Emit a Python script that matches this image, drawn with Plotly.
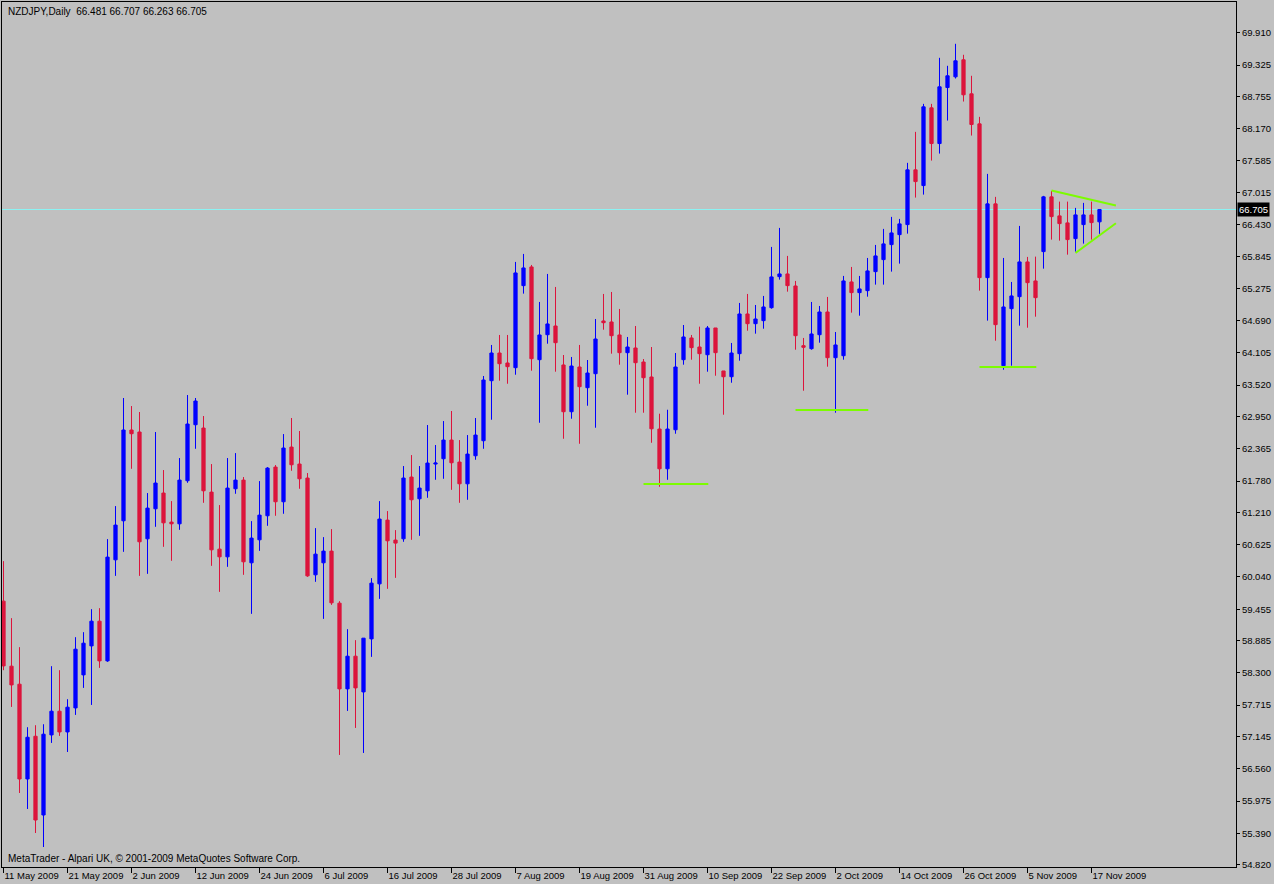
import plotly.graph_objects as go

# ---- data ----
opens = [59.601, 58.422, 58.095, 56.376, 57.151, 55.723, 57.175, 57.605, 57.229, 57.665,
         58.264, 58.790, 59.238, 58.518, 60.351, 61.059, 62.705, 62.669, 60.732, 61.277,
         61.562, 61.035, 61.004, 61.785, 62.801, 62.741, 61.579, 60.545, 60.405, 61.640,
         61.797, 60.297, 60.714, 61.150, 62.033, 61.404, 62.396, 62.088, 61.834, 60.079,
         60.297, 60.509, 59.565, 58.010, 58.603, 57.955, 58.917, 59.915, 61.071, 60.709,
         60.732, 61.852, 61.458, 61.603, 62.088, 62.184, 62.523, 62.124, 61.730, 62.238,
         62.511, 63.600, 64.102, 63.921, 63.836, 65.324, 65.663, 63.981, 64.434, 64.592,
         63.885, 63.037, 63.848, 63.473, 63.727, 64.683, 64.665, 64.429, 64.108, 64.193,
         63.939, 63.667, 62.723, 62.002, 62.710, 63.981, 64.375, 64.211, 64.071, 64.556,
         63.776, 63.672, 64.090, 64.810, 64.634, 64.689, 64.924, 65.487, 65.536, 65.318,
         64.235, 64.180, 64.434, 64.846, 64.017, 64.053, 65.391, 65.197, 65.233, 65.578,
         65.796, 66.068, 66.249, 66.431, 67.424, 67.139, 68.549, 67.901, 68.917, 69.111,
         69.420, 68.803, 68.258, 65.469, 66.807, 63.872, 64.906, 65.124, 65.754, 65.409,
         65.941, 66.934, 66.589, 66.462, 66.177, 66.431, 66.607, 66.481]
highs = [60.327, 59.293, 58.767, 57.315, 57.351, 57.369, 58.422, 58.349, 57.823, 58.948,
         59.039, 59.456, 59.474, 60.727, 61.326, 63.286, 63.140, 63.032, 61.562, 62.669,
         61.979, 61.416, 62.197, 63.340, 63.286, 62.959, 62.088, 61.344, 62.197, 62.287,
         61.852, 61.053, 61.779, 62.033, 62.070, 62.632, 62.923, 62.687, 61.925, 60.926,
         60.763, 60.908, 59.601, 59.093, 58.894, 58.930, 60.019, 61.416, 61.235, 60.890,
         62.052, 62.251, 62.052, 62.796, 62.433, 62.868, 63.050, 62.523, 62.614, 62.923,
         63.685, 64.248, 64.429, 64.429, 65.754, 65.899, 65.699, 65.028, 65.536, 65.300,
         64.066, 64.030, 64.248, 63.975, 64.719, 65.173, 65.209, 64.901, 64.393, 64.592,
         63.993, 64.211, 63.001, 63.073, 64.102, 64.610, 64.429, 64.580, 64.592, 64.556,
         63.776, 64.284, 65.010, 65.173, 64.973, 65.137, 66.026, 66.371, 65.863, 65.409,
         64.375, 65.028, 64.955, 65.119, 64.483, 65.500, 65.663, 65.500, 65.826, 66.062,
         66.353, 66.571, 66.534, 67.551, 68.113, 68.621, 68.621, 69.456, 69.311, 69.710,
         69.511, 69.130, 68.385, 67.351, 66.934, 65.826, 65.391, 66.407, 65.845, 65.850,
         66.952, 67.042, 66.848, 66.848, 66.734, 66.825, 66.848, 66.707]
lows = [58.349, 57.683, 56.122, 55.832, 55.396, 55.142, 57.030, 57.157, 56.866, 57.538,
        58.028, 57.719, 58.391, 58.500, 60.060, 60.496, 62.002, 60.060, 60.097, 60.950,
        60.587, 60.333, 60.895, 61.748, 62.365, 61.385, 60.242, 59.770, 60.224, 61.549,
        60.079, 59.371, 60.514, 60.968, 61.150, 61.186, 61.966, 61.640, 60.042, 59.952,
        59.280, 59.534, 56.812, 57.610, 57.302, 56.848, 58.591, 59.643, 59.825, 60.024,
        60.678, 60.714, 60.786, 61.476, 61.803, 61.821, 61.621, 61.385, 61.440, 62.166,
        62.365, 62.892, 63.600, 63.545, 63.708, 65.179, 63.781, 62.837, 64.271, 63.763,
        62.547, 62.910, 62.456, 63.146, 62.747, 64.525, 64.090, 63.890, 63.346, 63.019,
        63.019, 62.474, 61.676, 61.803, 62.638, 63.890, 63.981, 63.545, 63.763, 63.690,
        62.983, 63.563, 63.963, 64.507, 64.453, 64.543, 64.906, 65.433, 65.215, 64.162,
        63.418, 64.162, 64.289, 63.854, 63.019, 63.981, 64.834, 64.779, 65.124, 65.342,
        65.342, 65.578, 65.723, 66.267, 66.921, 66.975, 67.592, 67.719, 68.318, 69.081,
        68.663, 68.046, 65.233, 64.689, 64.325, 63.799, 63.872, 64.598, 64.561, 64.761,
        65.632, 66.159, 66.140, 65.886, 65.941, 66.086, 66.159, 66.263]
closes = [58.427, 58.082, 56.376, 57.133, 55.632, 57.188, 57.605, 57.229, 57.678, 58.730,
          58.839, 59.238, 58.518, 60.400, 60.981, 62.705, 62.638, 60.678, 61.289, 61.743,
          61.022, 61.004, 61.797, 62.814, 63.231, 61.603, 60.532, 60.405, 61.652, 61.797,
          60.315, 60.745, 61.162, 62.015, 61.404, 62.378, 62.075, 61.821, 60.060, 60.454,
          60.509, 59.571, 58.010, 58.603, 58.028, 58.930, 59.928, 61.090, 60.696, 60.654,
          61.834, 61.440, 61.652, 62.106, 62.106, 62.523, 62.111, 61.730, 62.269, 62.614,
          63.612, 64.102, 63.908, 63.854, 65.554, 65.645, 63.999, 64.429, 64.629, 64.289,
          63.037, 63.866, 63.491, 63.739, 64.356, 64.652, 64.416, 64.108, 64.211, 63.926,
          63.654, 62.728, 62.002, 62.723, 63.848, 64.393, 64.199, 64.090, 64.556, 64.108,
          63.672, 64.102, 64.810, 64.634, 64.719, 64.937, 65.482, 65.536, 65.324, 64.416,
          64.206, 64.447, 64.846, 64.017, 64.248, 65.409, 65.197, 65.264, 65.591, 65.863,
          66.081, 66.280, 66.444, 67.424, 67.211, 68.567, 67.901, 68.930, 69.130, 69.402,
          68.785, 68.246, 65.469, 66.807, 64.616, 64.937, 65.137, 65.754, 65.378, 65.106,
          66.934, 66.576, 66.449, 66.159, 66.607, 66.607, 66.467, 66.705]

date_labels = ["11 May 2009", "21 May 2009", "2 Jun 2009", "12 Jun 2009", "24 Jun 2009",
               "6 Jul 2009", "16 Jul 2009", "28 Jul 2009", "7 Aug 2009", "19 Aug 2009",
               "31 Aug 2009", "10 Sep 2009", "22 Sep 2009", "2 Oct 2009", "14 Oct 2009",
               "26 Oct 2009", "5 Nov 2009", "17 Nov 2009"]
label_every = 8  # one date label every 8 daily bars

price_ticks = [69.910, 69.325, 68.755, 68.170, 67.585, 67.015, 66.430, 65.845, 65.275,
               64.690, 64.105, 63.520, 62.950, 62.365, 61.780, 61.210, 60.625, 60.040,
               59.455, 58.885, 58.300, 57.715, 57.145, 56.560, 55.975, 55.390, 54.820]

symbol_title = "NZDJPY,Daily"
current_price = 66.705

# hand-drawn trendlines (bar index, price)
trend_x0 = [80.0, 99.0, 122.0, 131.0, 134.0]
trend_p0 = [61.725, 63.068, 63.848, 67.048, 65.917]
trend_x1 = [88.1, 108.1, 129.1, 139.05, 139.05]
trend_p1 = [61.725, 63.068, 63.848, 66.776, 66.456]

# ---- figure ----
n = len(opens)
bars = list(range(n))
tickvals = [i * label_every for i in range(len(date_labels))]

BLUE = "#0000FF"
RED = "#DC143C"
SILVER = "#C0C0C0"
GREEN = "#7CFC00"
BIDLINE = "#8CF2F2"
FONT = "Liberation Sans"

fig = go.Figure()
fig.add_trace(go.Candlestick(
    x=bars, open=opens, high=highs, low=lows, close=closes,
    increasing=dict(line=dict(color=BLUE, width=1), fillcolor=BLUE),
    decreasing=dict(line=dict(color=RED, width=1), fillcolor=RED),
    whiskerwidth=0, showlegend=False, hoverinfo="skip",
))

shapes = []
shapes.append(dict(type="line", xref="paper", x0=0, x1=1, yref="y",
                   y0=current_price, y1=current_price,
                   line=dict(color=BIDLINE, width=1.2), layer="below"))
for a, b, c, d in zip(trend_x0, trend_p0, trend_x1, trend_p1):
    shapes.append(dict(type="line", xref="x", yref="y", x0=a, y0=b, x1=c, y1=d,
                       line=dict(color=GREEN, width=2)))

o, h, l, c = opens[-1], highs[-1], lows[-1], closes[-1]
annotations = [
    dict(xref="paper", yref="paper", x=0, y=1, xanchor="left", yanchor="top",
         xshift=4, yshift=-2, showarrow=False,
         text=f"{symbol_title}\u00a0\u00a0{o:.3f} {h:.3f} {l:.3f} {c:.3f}",
         font=dict(family=FONT, size=10, color="black")),
    dict(xref="paper", yref="paper", x=0, y=0, xanchor="left", yanchor="bottom",
         xshift=4, yshift=1, showarrow=False,
         text="MetaTrader - Alpari UK, \u00a9 2001-2009 MetaQuotes Software Corp.",
         font=dict(family=FONT, size=10, color="black")),
    dict(xref="paper", yref="y", x=1, y=current_price, xanchor="left", yanchor="middle",
         xshift=1, showarrow=False, text=f"{current_price:.3f}",
         bgcolor="black", borderpad=1, font=dict(family=FONT, size=9.5, color="white")),
]

fig.update_layout(
    width=1274, height=884,
    margin=dict(l=2, r=38, t=2, b=17, pad=0),
    paper_bgcolor=SILVER, plot_bgcolor=SILVER,
    font=dict(family=FONT, size=9.5, color="black"),
    showlegend=False,
    boxgap=0.42,
    shapes=shapes,
    annotations=annotations,
    xaxis=dict(
        range=[-0.1875, 154.0625], rangeslider=dict(visible=False),
        tickvals=tickvals, ticktext=date_labels,
        ticks="outside", ticklen=5, tickcolor="black", tickwidth=1,
        ticklabelposition="outside right",
        showgrid=False, zeroline=False,
        showline=True, linecolor="black", linewidth=1, mirror=True,
        fixedrange=True,
    ),
    yaxis=dict(
        side="right", range=[54.7796, 70.4684],
        tickvals=price_ticks, ticktext=[f"{v:.3f}" for v in price_ticks],
        ticks="outside", ticklen=3, tickcolor="black", tickwidth=1,
        showgrid=False, zeroline=False,
        showline=True, linecolor="black", linewidth=1, mirror=True,
        fixedrange=True,
    ),
)

fig.write_html(
    "out.html",
    config={"displayModeBar": False},
    post_script="document.body.style.margin='0';document.body.style.overflow='hidden';",
)
